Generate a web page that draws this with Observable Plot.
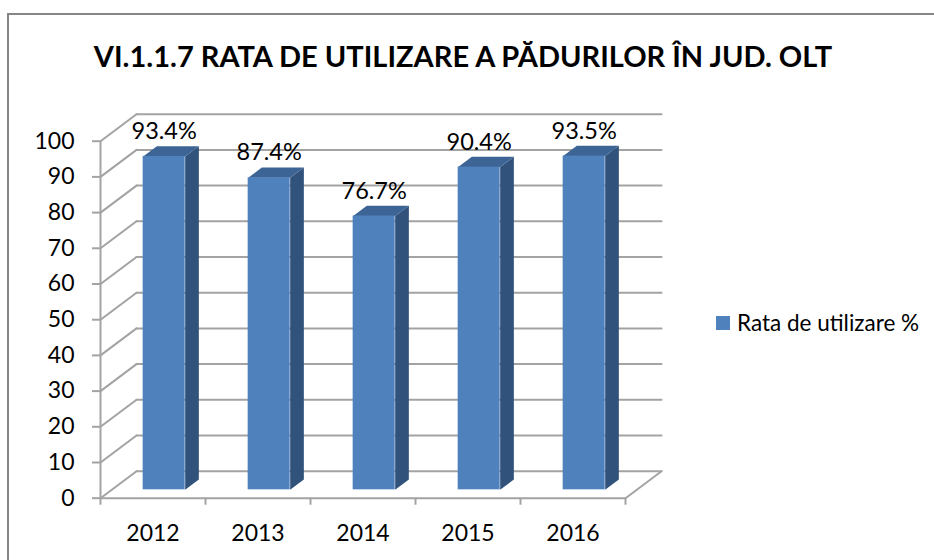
<!DOCTYPE html>
<html><head><meta charset="utf-8">
<script src="https://cdn.jsdelivr.net/npm/d3@7"></script>
<script src="https://cdn.jsdelivr.net/npm/@observablehq/plot@0.6"></script>
<style>
html,body{margin:0;padding:0;background:#fff;overflow:hidden;}
#frame{position:absolute;left:7px;top:13px;width:927px;height:547px;border-left:2px solid #868686;border-top:2px solid #868686;box-sizing:border-box;}
#title{position:absolute;left:0;width:926px;top:38px;text-align:center;font:bold 29px Lato,sans-serif;color:#000;white-space:nowrap;}
#chart{position:absolute;left:0;top:95px;}
#legend{position:absolute;left:716px;top:309px;font:22.5px Lato,sans-serif;color:#000;display:flex;align-items:center;gap:7px;white-space:nowrap;}
#legend i{display:block;width:14px;height:14px;background:#4f81bd;}
</style></head><body>
<div id="frame"></div>
<div id="title">VI.1.1.7 RATA DE UTILIZARE A PĂDURILOR ÎN JUD. OLT</div>
<div id="chart"></div>
<div id="legend"><i></i><span>Rata de utilizare %</span></div>
<script>
const years = ["2012","2013","2014","2015","2016"];
const rates = [93.4,87.4,76.7,90.4,93.5];
const yTicks = [0,10,20,30,40,50,60,70,80,90,100];
const xBounds = [0,1,2,3,4,5];
const xCenters = [0.5,1.5,2.5,3.5,4.5];
const gray = "#a3a3a3";
const depthX = 0.343, depthY = 7.56;   // 3D wall depth in data units
const t0 = 0.31, t1 = 0.69;            // bar's depth extent
const gap = 0.3, barW = 0.4;

const bars = rates.map((v,i)=>({
  i, v,
  x1: i+gap+t0*depthX, x2: i+gap+barW+t0*depthX,
  y1: t0*depthY, y2: v+t0*depthY
}));
const dX=(t1-t0)*depthX, dY=(t1-t0)*depthY;
const sides = bars.flatMap(b=>[
  {id:b.i,x:b.x2,y:b.y1},{id:b.i,x:b.x2+dX,y:b.y1+dY},{id:b.i,x:b.x2+dX,y:b.y2+dY},{id:b.i,x:b.x2,y:b.y2}
]);
const tops = bars.flatMap(b=>[
  {id:b.i,x:b.x1,y:b.y2},{id:b.i,x:b.x1+dX,y:b.y2+dY},{id:b.i,x:b.x2+dX,y:b.y2+dY},{id:b.i,x:b.x2,y:b.y2}
]);
const diagonals = yTicks.flatMap(v=>[{id:v,x:0,y:v},{id:v,x:depthX,y:v+depthY}]);
const backGrid = yTicks.flatMap(v=>[{id:v,x:depthX,y:v+depthY},{id:v,x:5+depthX,y:v+depthY}]);
const floorEdge = [{x:0,y:0},{x:5,y:0},{x:5+depthX,y:depthY}];

const W=934, H=465;
const plot = Plot.plot({
  width:W, height:H,
  marginLeft:100, marginRight:309, marginTop:45.7, marginBottom:H-402.7,
  clip:false,
  style:{fontFamily:"Lato,sans-serif",background:"transparent",overflow:"visible"},
  x:{domain:[0,5],axis:null},
  y:{domain:[0,100],axis:null},
  marks:[
    Plot.line(backGrid,{x:"x",y:"y",z:"id",stroke:gray,strokeWidth:2}),
    Plot.line(diagonals,{x:"x",y:"y",z:"id",stroke:gray,strokeWidth:2}),
    Plot.line(floorEdge,{x:"x",y:"y",stroke:gray,strokeWidth:2}),
    Plot.ruleX([0],{y1:0,y2:100,stroke:gray,strokeWidth:2}),
    Plot.axisY({ticks:yTicks,tickSize:8,tickPadding:18,stroke:gray,strokeWidth:2,fill:"#000",fontSize:23,label:null,anchor:"left"}),
    Plot.axisX({ticks:xBounds,tickSize:7,tickFormat:()=>"",stroke:gray,strokeWidth:2,label:null,anchor:"bottom"}),
    Plot.axisX({ticks:xCenters,tickSize:0,tickPadding:26,tickFormat:d=>years[d-0.5],fill:"#000",fontSize:23,label:null,anchor:"bottom"}),
    Plot.line(sides,{x:"x",y:"y",z:"id",fill:"#31527b",stroke:null}),
    Plot.line(tops,{x:"x",y:"y",z:"id",fill:"#3c6494",stroke:null}),
    Plot.rect(bars,{x1:"x1",x2:"x2",y1:"y1",y2:"y2",fill:"#4f81bd",inset:0}),
    Plot.text(bars,{x:d=>(d.x1+d.x2)/2,y:"y2",text:d=>d.v.toFixed(1)+"%",dy:-25,fontSize:23.5,fill:"#000"})
  ]
});
document.getElementById("chart").appendChild(plot);
</script>
</body></html>
